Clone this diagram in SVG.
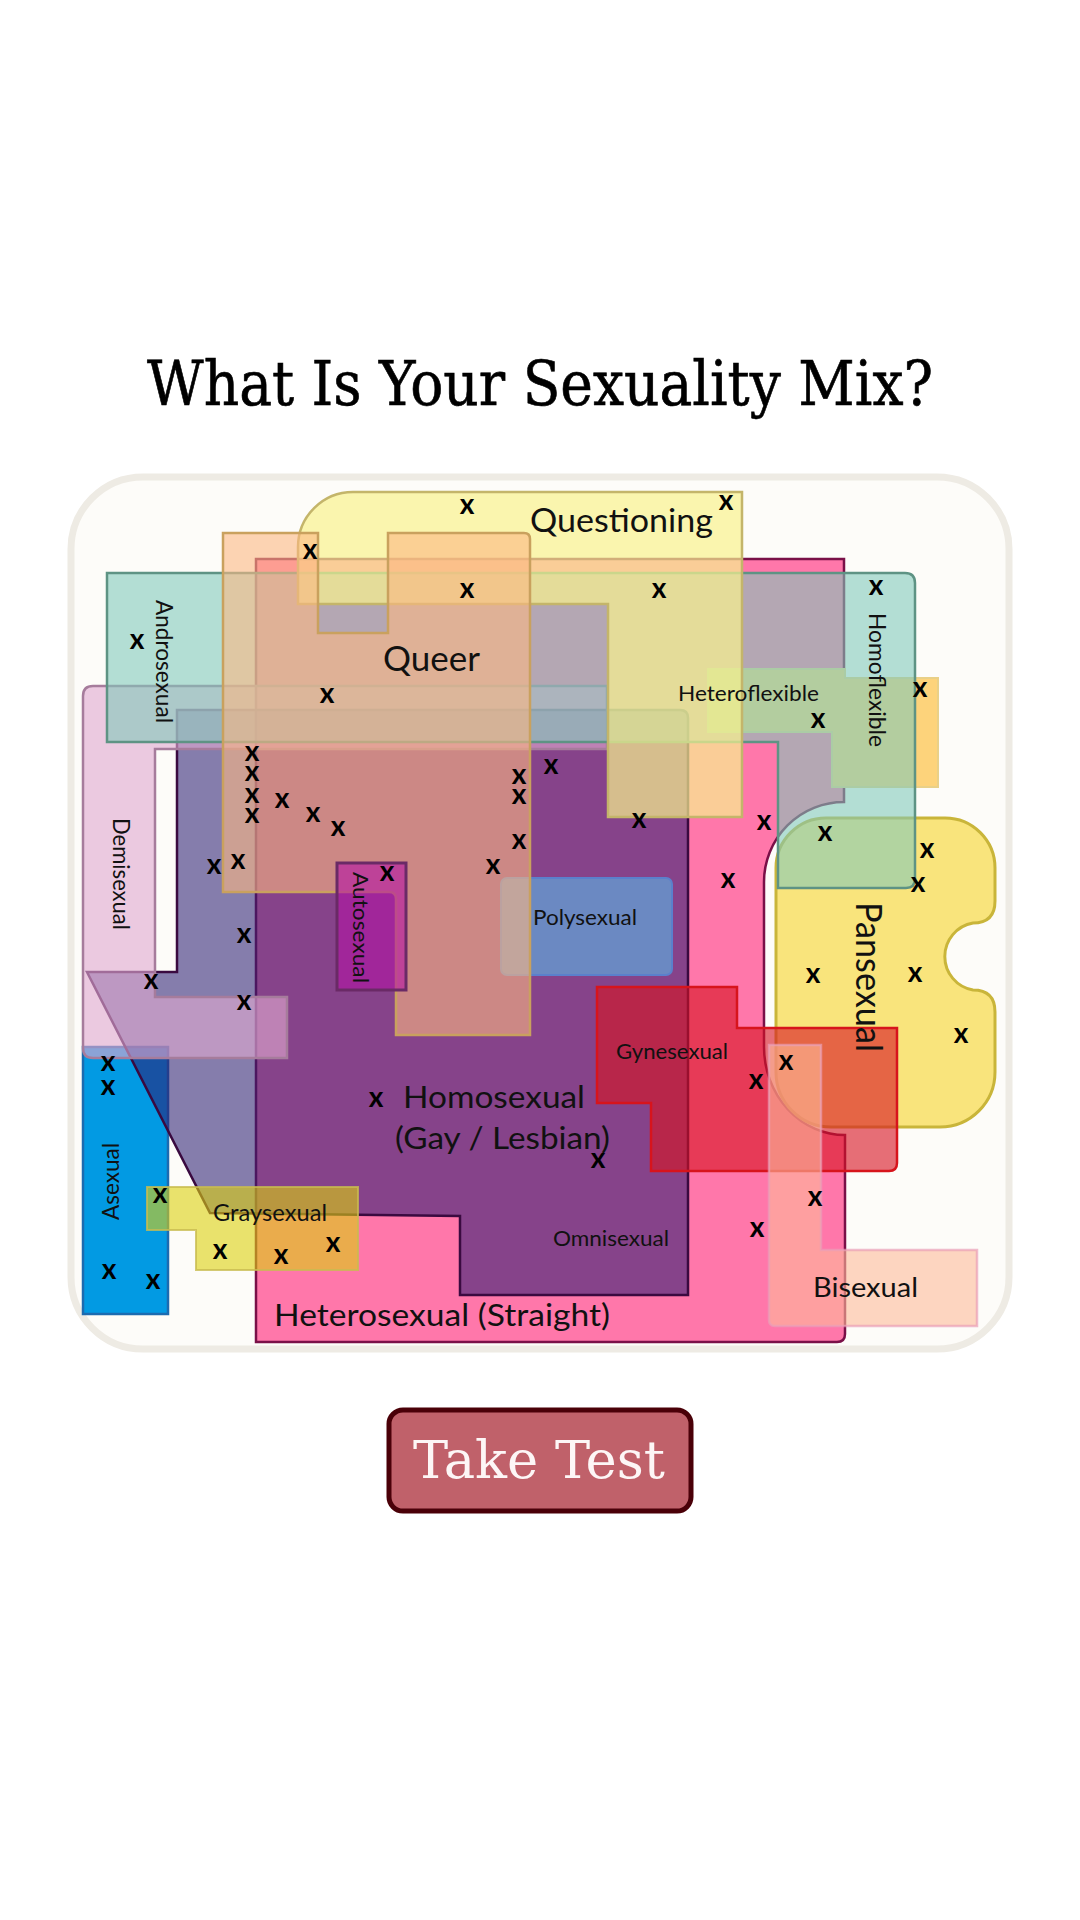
<svg xmlns="http://www.w3.org/2000/svg" width="1080" height="1920" viewBox="0 0 1080 1920">
<style>
.lbl{font-family:Lato,'Noto Sans',sans-serif;fill:#111}
.x{font-family:Lato,'Noto Sans',sans-serif;font-weight:700;font-size:28px;text-anchor:middle;fill:#000}
.ttl{font-family:'DejaVu Serif Condensed','DejaVu Serif','Liberation Serif',serif}
</style>
<rect width="1080" height="1920" fill="#ffffff"/>
<text class="ttl" x="147" y="405" font-size="62" textLength="786" lengthAdjust="spacingAndGlyphs" fill="#000" stroke="#000" stroke-width="0.6">What Is Your Sexuality Mix?</text>
<rect id="panel" x="71" y="477" width="938" height="872" rx="72" fill="#fdfcf9" stroke="#eeebe4" stroke-width="7"/>

<g id="heterosexual"><path d="M256,559 L844,559 L844,802 A80,80 0 0 0 764,882 L764,1047 A81,88 0 0 0 845,1135 L845,1334 Q845,1342 837,1342 L256,1342 Z" fill="#ff77aa" stroke="#7a1048" stroke-width="2.5"/></g>
<g id="asexual"><rect x="83" y="1047" width="85" height="267" fill="#029ae3" stroke="#1c6bb0" stroke-width="2.5"/></g>
<g id="homosexual"><path d="M177,710 L680,710 Q688,710 688,718 L688,1295 L460,1295 L460,1216 L210,1213 L87,972 L177,972 Z" fill="rgb(42,28,115)" fill-opacity="0.57" stroke="#3a0a40" stroke-width="2.5"/></g>
<g id="polysexual"><rect x="501" y="878" width="171" height="97" rx="6" fill="#6b89c2" stroke="#5b80cc" stroke-width="2"/></g>
<g id="demisexual"><path d="M93,686 L607,686 L607,749 L155,749 L155,997 L287,997 L287,1058 L93,1058 Q83,1058 83,1048 L83,696 Q83,686 93,686 Z" fill="rgb(224,170,209)" fill-opacity="0.62" stroke="#a67c9c" stroke-width="2.5"/></g>
<g id="pansexual"><path d="M826,818 L945,818 A50,50 0 0 1 995,868 L995,901 Q995,923 973,923 A34,34 0 0 0 973,990 Q995,990 995,1012 L995,1072 A55,55 0 0 1 940,1127 L831,1127 A55,55 0 0 1 776,1072 L776,868 A50,50 0 0 1 826,818 Z" fill="#f9e47c" stroke="#c9b53a" stroke-width="3"/></g>
<g id="heteroflexible"><path d="M708,669 L845,669 L845,678 L938,678 L938,787 L832,787 L832,732 L708,732 Z" fill="#fdd37b" stroke="#e9d088" stroke-width="2"/></g>
<g id="androsexual-homoflexible"><path d="M107,573 L905,573 Q915,573 915,583 L915,879 Q915,888 906,888 L778,888 L778,742 L107,742 Z" fill="rgb(127,200,185)" fill-opacity="0.59" stroke="#5e9384" stroke-width="2.5"/></g>
<g id="questioning"><path d="M298,547 A55,55 0 0 1 353,492 L742,492 L742,817 L608,817 L608,604 L298,604 Z" fill="rgb(248,242,142)" fill-opacity="0.7" stroke="#c4b56a" stroke-width="2.5"/></g>
<g id="queer"><path d="M223,533 L318,533 L318,633 L388,633 L388,533 L524,533 Q530,533 530,539 L530,1035 L396,1035 L396,899 Q396,892 389,892 L223,892 Z" fill="rgb(251,183,130)" fill-opacity="0.6" stroke="#c9a15e" stroke-width="2.5"/></g>
<g id="autosexual"><rect x="337" y="863" width="69" height="127" fill="rgb(180,20,165)" fill-opacity="0.6" stroke="#6a2a66" stroke-width="3"/></g>
<g id="gynesexual"><path d="M597,987 L737,987 L737,1028 L897,1028 L897,1163 Q897,1171 889,1171 L651,1171 L651,1103 L597,1103 Z" fill="rgb(215,20,34)" fill-opacity="0.61" stroke="#d7141c" stroke-width="2.5"/></g>
<g id="bisexual"><path d="M769,1045 L821,1045 L821,1250 L977,1250 L977,1326 L775,1326 Q769,1326 769,1320 Z" fill="rgb(253,187,154)" fill-opacity="0.6" stroke="#e9a0b8" stroke-opacity="0.7" stroke-width="2.5"/></g>
<g id="graysexual"><path d="M147,1187 L358,1187 L358,1270 L196,1270 L196,1230 L147,1230 Z" fill="rgb(220,208,14)" fill-opacity="0.6" stroke="#c8bb50" stroke-opacity="0.8" stroke-width="2"/></g>

<g id="labels">
<text class="lbl" x="530" y="532" font-size="33" textLength="183" lengthAdjust="spacingAndGlyphs">Questioning</text>
<text class="lbl" x="383" y="671" font-size="35" textLength="97" lengthAdjust="spacingAndGlyphs">Queer</text>
<text class="lbl" x="678" y="701" font-size="22" textLength="141" lengthAdjust="spacingAndGlyphs">Heteroflexible</text>
<text class="lbl" transform="translate(869,613) rotate(90)" font-size="24" textLength="134" lengthAdjust="spacingAndGlyphs">Homoflexible</text>
<text class="lbl" transform="translate(156,600) rotate(90)" font-size="24" textLength="123" lengthAdjust="spacingAndGlyphs">Androsexual</text>
<text class="lbl" transform="translate(113,818) rotate(90)" font-size="23" textLength="112" lengthAdjust="spacingAndGlyphs">Demisexual</text>
<text class="lbl" transform="translate(353,872) rotate(90)" font-size="22" textLength="111" lengthAdjust="spacingAndGlyphs">Autosexual</text>
<text class="lbl" transform="translate(856,902) rotate(90)" font-size="36" textLength="150" lengthAdjust="spacingAndGlyphs">Pansexual</text>
<text class="lbl" transform="translate(119,1220) rotate(-90)" font-size="23" textLength="77" lengthAdjust="spacingAndGlyphs">Asexual</text>
<text class="lbl" x="533" y="925" font-size="21" textLength="104" lengthAdjust="spacingAndGlyphs">Polysexual</text>
<text class="lbl" x="616" y="1059" font-size="22" textLength="112" lengthAdjust="spacingAndGlyphs">Gynesexual</text>
<text class="lbl" x="553" y="1246" font-size="22" textLength="116" lengthAdjust="spacingAndGlyphs">Omnisexual</text>
<text class="lbl" x="213" y="1221" font-size="23" textLength="114" lengthAdjust="spacingAndGlyphs">Graysexual</text>
<text class="lbl" x="813" y="1297" font-size="26" textLength="105" lengthAdjust="spacingAndGlyphs">Bisexual</text>
<text class="lbl" x="403" y="1108" font-size="31" textLength="182" lengthAdjust="spacingAndGlyphs">Homosexual</text>
<text class="lbl" x="395" y="1149" font-size="31" textLength="215" lengthAdjust="spacingAndGlyphs">(Gay / Lesbian)</text>
<text class="lbl" x="274" y="1326" font-size="31" textLength="336" lengthAdjust="spacingAndGlyphs">Heterosexual (Straight)</text>
</g>

<g id="marks">
<text class="x" x="467" y="514">x</text>
<text class="x" x="726" y="510">x</text>
<text class="x" x="310" y="559">x</text>
<text class="x" x="467" y="598">x</text>
<text class="x" x="659" y="598">x</text>
<text class="x" x="876" y="595">x</text>
<text class="x" x="137" y="649">x</text>
<text class="x" x="327" y="703">x</text>
<text class="x" x="920" y="697">x</text>
<text class="x" x="818" y="728">x</text>
<text class="x" x="252" y="761">x</text>
<text class="x" x="252" y="781">x</text>
<text class="x" x="252" y="803">x</text>
<text class="x" x="252" y="823">x</text>
<text class="x" x="551" y="774">x</text>
<text class="x" x="519" y="784">x</text>
<text class="x" x="519" y="804">x</text>
<text class="x" x="282" y="808">x</text>
<text class="x" x="313" y="822">x</text>
<text class="x" x="338" y="836">x</text>
<text class="x" x="519" y="849">x</text>
<text class="x" x="214" y="874">x</text>
<text class="x" x="238" y="869">x</text>
<text class="x" x="493" y="874">x</text>
<text class="x" x="387" y="881">x</text>
<text class="x" x="639" y="828">x</text>
<text class="x" x="764" y="830">x</text>
<text class="x" x="825" y="841">x</text>
<text class="x" x="927" y="858">x</text>
<text class="x" x="728" y="888">x</text>
<text class="x" x="918" y="892">x</text>
<text class="x" x="244" y="943">x</text>
<text class="x" x="151" y="989">x</text>
<text class="x" x="244" y="1010">x</text>
<text class="x" x="813" y="983">x</text>
<text class="x" x="915" y="982">x</text>
<text class="x" x="961" y="1043">x</text>
<text class="x" x="786" y="1070">x</text>
<text class="x" x="756" y="1089">x</text>
<text class="x" x="108" y="1071">x</text>
<text class="x" x="108" y="1095">x</text>
<text class="x" x="376" y="1107">x</text>
<text class="x" x="598" y="1168">x</text>
<text class="x" x="815" y="1206">x</text>
<text class="x" x="757" y="1237">x</text>
<text class="x" x="160" y="1203">x</text>
<text class="x" x="220" y="1259">x</text>
<text class="x" x="281" y="1264">x</text>
<text class="x" x="333" y="1252">x</text>
<text class="x" x="109" y="1279">x</text>
<text class="x" x="153" y="1289">x</text>
</g>

<g id="take-test">
<rect x="389" y="1410" width="302" height="101" rx="14" fill="#c0616a" stroke="#4a0008" stroke-width="5"/>
<text class="ttl" x="413" y="1478" font-size="52" textLength="252" lengthAdjust="spacingAndGlyphs" fill="#fdf6f6">Take Test</text>
</g>
</svg>
